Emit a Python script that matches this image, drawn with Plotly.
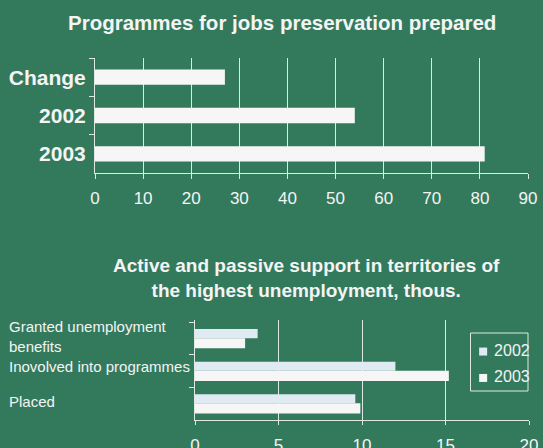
import plotly.graph_objects as go

# ---- data ----
top_categories = ["Change", "2002", "2003"]
top_values = [27, 54, 81]

bottom_categories = ["Granted unemployment benefits", "Inovolved into programmes", "Placed"]
bottom_labels = ["Granted unemployment<br>benefits", "Inovolved into programmes", "Placed"]
series_names = ["2002", "2003"]
values_2002 = [3.75, 12.0, 9.6]
values_2003 = [3.0, 15.2, 9.9]

top_title = "Programmes for jobs preservation prepared"
bottom_title = "Active and passive support in territories of<br>the highest unemployment, thous."

# ---- style ----
W, H = 543, 448
BG = "#337a5d"
TXT = "#f4f4f4"
GRID = "#dfe9e4"
BAR = "#f6f6f6"
BAR02 = "#dfeaf2"
FONT = "Liberation Sans, Arial, sans-serif"
LABEL_SHIFTS = [2, 5, 2]

def px_x(p):
    return p / W

def px_y(p):
    return 1 - p / H

fig = go.Figure()

fig.add_trace(go.Bar(
    y=top_categories, x=top_values, orientation="h",
    marker=dict(color=BAR, line=dict(width=0)), width=0.4,
    xaxis="x", yaxis="y", showlegend=False, hoverinfo="x+y"))

colors = [BAR02, BAR]
offsets = [-0.29, -0.01]
widths = [0.28, 0.31]
for name, vals, c, off, wd in zip(series_names, [values_2002, values_2003], colors, offsets, widths):
    fig.add_trace(go.Bar(
        y=bottom_categories, x=vals, orientation="h", name=name,
        marker=dict(color=c, line=dict(width=0)), offset=off, width=wd,
        xaxis="x2", yaxis="y2", showlegend=False))

# legend drawn as marker + text on a hidden axis inside a frame
LEG_X0, LEG_X1, LEG_Y0, LEG_Y1 = 470.5, 528, 333, 391
leg_y = [0.68, 0.225]
fig.add_trace(go.Scatter(
    x=[0.22, 0.22], y=leg_y, mode="markers",
    marker=dict(symbol="square", size=8, color=colors, line=dict(width=0)),
    xaxis="x3", yaxis="y3", showlegend=False, hoverinfo="skip", cliponaxis=False))
fig.add_trace(go.Scatter(
    x=[0.41, 0.41], y=leg_y, mode="text",
    text=series_names, textposition="middle right",
    textfont=dict(size=16, color=TXT, family=FONT),
    xaxis="x3", yaxis="y3", showlegend=False, hoverinfo="skip", cliponaxis=False))

axis_common = dict(showline=True, linecolor=GRID, linewidth=1, zeroline=False)

fig.update_layout(
    width=W, height=H,
    paper_bgcolor=BG, plot_bgcolor=BG,
    margin=dict(l=0, r=0, t=0, b=0, autoexpand=False),
    font=dict(family=FONT, color=TXT),
    barmode="group",
    showlegend=False,
    xaxis=dict(domain=[px_x(95), px_x(528)], anchor="y", range=[0, 90], dtick=10,
               showgrid=True, gridcolor=GRID, gridwidth=1,
               ticks="outside", ticklen=5, tickcolor=GRID, automargin=False,
               tickfont=dict(size=17, color=TXT), ticklabelstandoff=5, **axis_common),
    yaxis=dict(domain=[px_y(173), px_y(58)], anchor="x", autorange="reversed",
               type="category", tickson="boundaries", ticks="outside", ticklen=5,
               tickcolor=GRID, showgrid=False, automargin=False,
               tickfont=dict(size=21, color=TXT, weight="bold"),
               ticklabelstandoff=4, **axis_common),
    xaxis2=dict(domain=[px_x(195), px_x(529)], anchor="y2", range=[0, 20], dtick=5,
                showgrid=True, gridcolor=GRID, gridwidth=1, automargin=False,
                ticks="outside", ticklen=4, tickcolor=GRID,
                tickfont=dict(size=17, color=TXT), ticklabelstandoff=6, **axis_common),
    yaxis2=dict(domain=[px_y(420), px_y(320)], anchor="x2", autorange="reversed",
                type="category", tickson="boundaries", ticks="outside", ticklen=5,
                tickcolor=GRID, showgrid=False, showticklabels=False, automargin=False,
                **axis_common),
    xaxis3=dict(domain=[px_x(LEG_X0), px_x(LEG_X1)], anchor="y3", range=[0, 1],
                visible=False, fixedrange=True),
    yaxis3=dict(domain=[px_y(LEG_Y1), px_y(LEG_Y0)], anchor="x3", range=[0, 1],
                visible=False, fixedrange=True),
    shapes=[dict(type="rect", xref="paper", yref="paper",
                 x0=px_x(LEG_X0), x1=px_x(LEG_X1), y0=px_y(LEG_Y1), y1=px_y(LEG_Y0),
                 line=dict(color=GRID, width=1), fillcolor="rgba(0,0,0,0)", layer="above")],
)

annotations = [
    dict(text="<b>" + top_title + "</b>", x=px_x(282), y=px_y(23), xref="paper", yref="paper",
         xanchor="center", yanchor="middle", showarrow=False, font=dict(size=20.5, color=TXT)),
    dict(text="<b>" + bottom_title + "</b>", x=px_x(306), y=px_y(278), xref="paper", yref="paper",
         xanchor="center", yanchor="middle", showarrow=False, align="center",
         font=dict(size=19, color=TXT)),
]
for cat, lab, sh in zip(bottom_categories, bottom_labels, LABEL_SHIFTS):
    annotations.append(dict(text=lab, x=px_x(7), y=cat, xref="paper", yref="y2",
                            xanchor="left", yanchor="middle", align="left", showarrow=False,
                            yshift=sh, font=dict(size=15, color=TXT)))
fig.update_layout(annotations=annotations)

fig.write_html("out.html", config={"displayModeBar": False},
               post_script="document.body.style.margin='0';document.body.style.overflow='hidden';")
